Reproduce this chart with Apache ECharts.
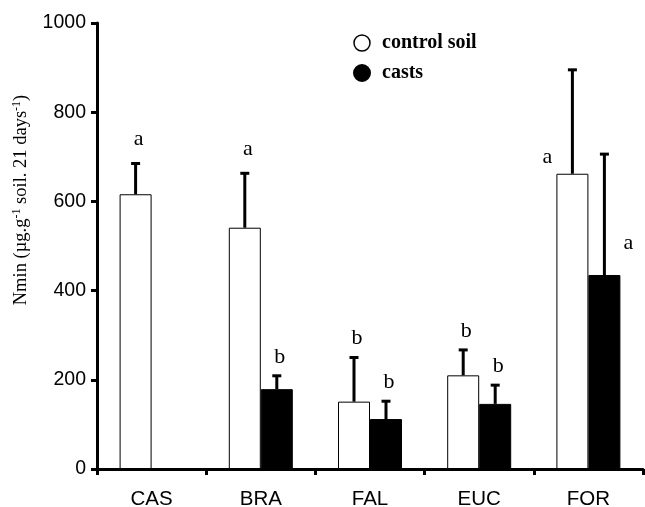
<!DOCTYPE html>
<html>
<head>
<meta charset="utf-8">
<script src="https://cdn.jsdelivr.net/npm/echarts@6/dist/echarts.min.js"></script>
<style>
  html, body { margin: 0; padding: 0; background: #fff; }
  #chart { width: 645px; height: 507px; }
</style>
</head>
<body>
<div id="chart"></div>
<script>
// data
const categories = ['CAS', 'BRA', 'FAL', 'EUC', 'FOR'];
const controlMean = [616, 541, 151, 210, 662];
const controlErr = [69, 122, 99, 57, 233];
const castMean = [null, 179, 112, 146, 435];
const castErr = [null, 30, 40, 42, 271];
const controlLetters = ['a', 'a', 'b', 'b', 'a'];
const castLetters = ['', 'b', 'b', 'b', 'a'];
const yTicks = { min: 0, max: 1000, interval: 200 };

// where each letter sits relative to its bar
const controlLetterPlace = ['top', 'top', 'top', 'top', 'left'];
const castLetterPlace = ['top', 'top', 'top', 'top', 'right'];

const BAR_W = 32;
const SERIF = '"Liberation Serif", "Times New Roman", serif';
const SANS = '"Liberation Sans", Arial, sans-serif';

function errorData(means, errs) {
    const out = [];
    means.forEach((m, i) => {
        if (m == null) return;
        out.push([i, m, m + errs[i]]);
    });
    return out;
}

function errorRenderer(side, letters, places) {
    return function (params, api) {
        const idx = api.value(0);
        const base = api.coord([idx, api.value(1)]);
        const top = api.coord([idx, api.value(2)]);
        const x = base[0] + side * BAR_W / 2;
        const letter = letters[idx];
        const place = places[idx];
        const children = [
            { type: 'line', shape: { x1: x, y1: base[1], x2: x, y2: top[1] },
              style: { stroke: '#000', lineWidth: 3 } },
            { type: 'line', shape: { x1: x - 4.5, y1: top[1], x2: x + 4.5, y2: top[1] },
              style: { stroke: '#000', lineWidth: 3 } }
        ];
        // 'b' has an ascender, so it sits a little lower than 'a'
        let tx = x + 3, ty = top[1] - (letter === 'b' ? 19 : 24);
        if (place === 'left') { tx = x - BAR_W / 2 - 9; ty = base[1] - 17; }
        if (place === 'right') { tx = x + BAR_W / 2 + 8; ty = base[1] - 32; }
        if (letter) {
            children.push({ type: 'text', x: tx, y: ty,
                style: { text: letter, fill: '#000', fontFamily: SERIF, fontSize: 22,
                         align: 'center', verticalAlign: 'middle' } });
        }
        return { type: 'group', children: children };
    };
}

const chart = echarts.init(document.getElementById('chart'));
chart.setOption({
    animation: false,
    backgroundColor: '#fff',
    grid: { left: 97, right: 2, top: 23, bottom: 38, outerBoundsMode: 'none' },
    legend: {
        orient: 'vertical', left: 348, top: 28,
        icon: 'circle', itemWidth: 16, itemHeight: 16, itemGap: 10,
        textStyle: { fontFamily: SERIF, fontWeight: 'bold', fontSize: 20, color: '#000', padding: [0, 0, 0, 7] },
        data: [
            { name: 'control soil', itemStyle: { color: '#fff', borderColor: '#000', borderWidth: 1.5 } },
            { name: 'casts', itemStyle: { color: '#000' } }
        ]
    },
    xAxis: {
        type: 'category', data: categories,
        axisLine: { lineStyle: { color: '#000', width: 3 } },
        axisTick: { show: true, length: 6, lineStyle: { color: '#000', width: 3 } },
        axisLabel: { color: '#000', fontFamily: SANS, fontSize: 20.5, margin: 20 },
        splitLine: { show: false }
    },
    yAxis: {
        type: 'value', min: yTicks.min, max: yTicks.max, interval: yTicks.interval,
        name: 'Nmin (µg.g{sup|-1} soil. 21 days{sup|-1})',
        nameLocation: 'middle', nameGap: 66,
        nameTextStyle: {
            fontFamily: SERIF, fontSize: 18.5, color: '#000', lineHeight: 20,
            padding: [0, 0, 0, 92],
            rich: { sup: { fontFamily: SERIF, fontSize: 12, color: '#000', verticalAlign: 'top', lineHeight: 20 } }
        },
        axisLine: { show: true, lineStyle: { color: '#000', width: 3 } },
        axisTick: { show: true, length: 6, lineStyle: { color: '#000', width: 3 } },
        axisLabel: { color: '#000', fontFamily: SANS, fontSize: 19.5, margin: 11, formatter: v => String(v) },
        splitLine: { show: false }
    },
    series: [
        { name: 'control soil', type: 'bar', data: controlMean, barWidth: BAR_W, barGap: '0%',
          itemStyle: { color: '#fff', borderColor: '#000', borderWidth: 1 } },
        { name: 'casts', type: 'bar', data: castMean.map(v => v == null ? '-' : v), barWidth: BAR_W, barGap: '0%',
          itemStyle: { color: '#000', borderColor: '#000', borderWidth: 1 } },
        { name: 'control err', type: 'custom', z: 5,
          data: errorData(controlMean, controlErr),
          renderItem: errorRenderer(-1, controlLetters, controlLetterPlace) },
        { name: 'casts err', type: 'custom', z: 5,
          data: errorData(castMean, castErr),
          renderItem: errorRenderer(1, castLetters, castLetterPlace) }
    ]
});
</script>
</body>
</html>
